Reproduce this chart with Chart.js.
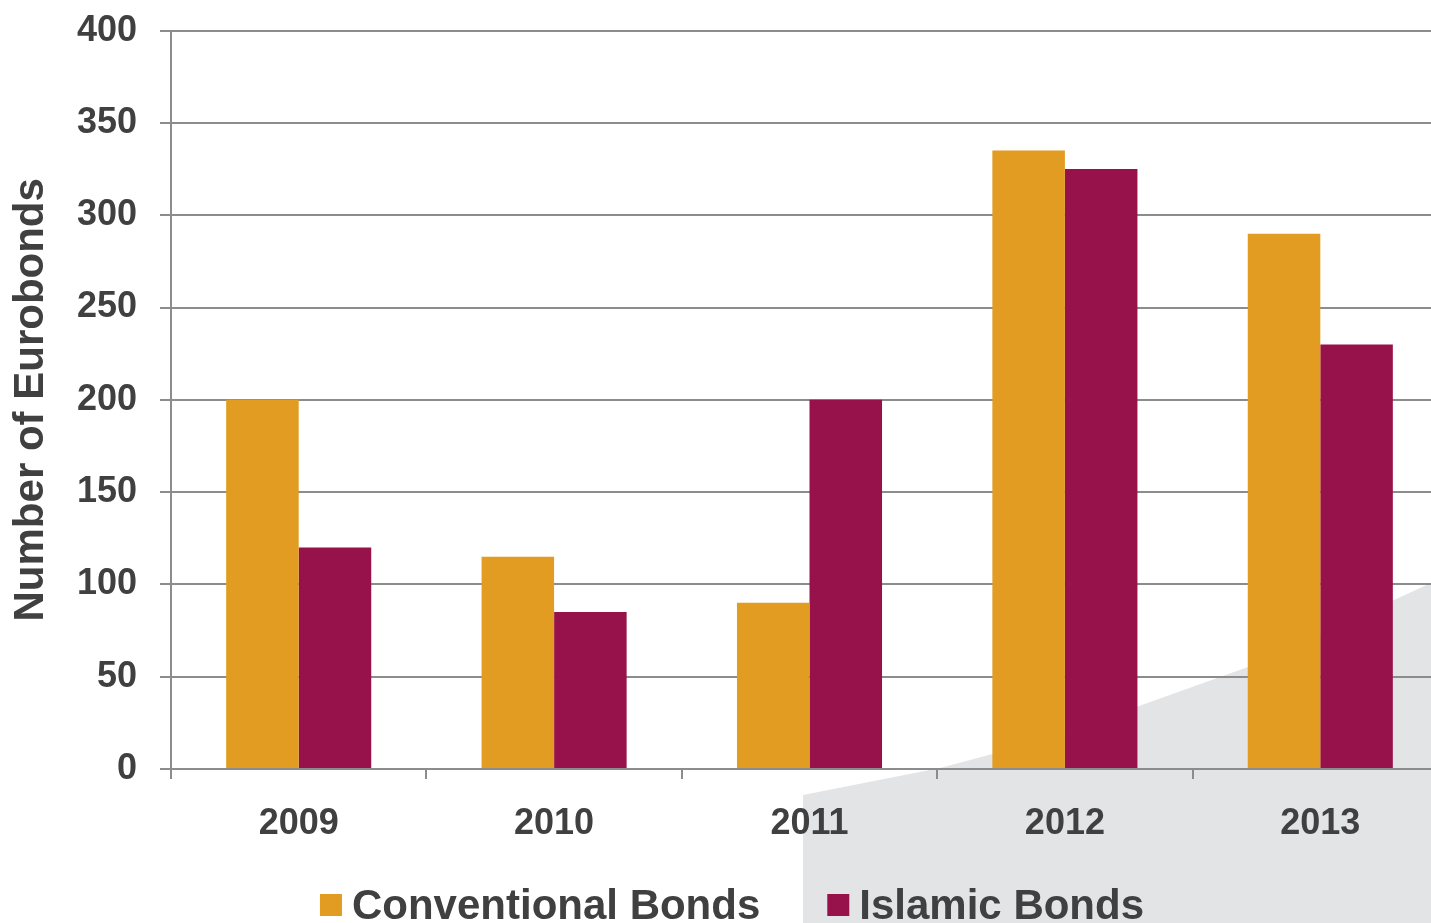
<!DOCTYPE html>
<html>
<head>
<meta charset="utf-8">
<script src="https://cdn.jsdelivr.net/npm/chart.js@4.4.1/dist/chart.umd.min.js"></script>
<style>
html,body{margin:0;padding:0;background:#fff;overflow:hidden;width:1431px;height:923px;}
#wrap{position:relative;width:1431px;height:923px;overflow:hidden;}
#bg{position:absolute;left:0;top:0;width:1431px;height:923px;background:#e3e4e6;
  clip-path:polygon(803px 923px,803px 795px,940px 768px,1000px 752px,1139px 706px,1248px 667px,1431px 583px,1431px 923px);}
canvas{position:absolute;left:0;top:-14px;}
</style>
</head>
<body>
<div id="wrap"><div id="bg"></div><canvas id="c" width="1448" height="937" style="width:1448px;height:937px"></canvas></div>
<script>
const categories = ['2009', '2010', '2011', '2012', '2013'];
const conventionalBonds = [200, 115, 90, 335, 290];
const islamicBonds = [120, 85, 200, 325, 230];
const seriesNames = ['Conventional Bonds', 'Islamic Bonds'];
const yTickValues = [0, 50, 100, 150, 200, 250, 300, 350, 400];
const yTitle = 'Number of Eurobonds';

const FONT = '"Liberation Sans", Arial, Helvetica, sans-serif';
const TEXT = '#404040';
const GRID = '#8c8c8c';

const legendPlugin = {
  id: 'customLegend',
  afterDraw(chart) {
    const ctx = chart.ctx;
    ctx.save();
    ctx.font = 'bold 42px ' + FONT;
    ctx.textBaseline = 'middle';
    const items = chart.data.datasets.map(d => ({text: d.label, color: d.backgroundColor, w: ctx.measureText(d.label).width}));
    const box = 22, gap = 10, itemGap = 67;
    const total = items.reduce((s, it) => s + box + gap + it.w, 0) + itemGap * (items.length - 1);
    let x = 732 - total / 2;
    const yMid = chart.chartArea.bottom + 136;
    items.forEach(it => {
      ctx.fillStyle = it.color;
      ctx.fillRect(x, yMid - 11, box, box);
      ctx.fillStyle = TEXT;
      ctx.fillText(it.text, x + box + gap, yMid + 2);
      x += box + gap + it.w + itemGap;
    });
    ctx.restore();
  }
};

new Chart(document.getElementById('c'), {
  type: 'bar',
  data: {
    labels: categories,
    datasets: [
      {label: seriesNames[0], data: conventionalBonds, backgroundColor: '#e29c21', borderWidth: 0},
      {label: seriesNames[1], data: islamicBonds, backgroundColor: '#97124a', borderWidth: 0}
    ]
  },
  options: {
    responsive: false,
    animation: false,
    devicePixelRatio: 1,
    layout: {padding: {top: 16, left: 0, right: 0, bottom: 0}},
    plugins: {legend: {display: false}, tooltip: {enabled: false}},
    datasets: {bar: {barPercentage: 1, categoryPercentage: 0.568}},
    scales: {
      x: {
        offset: true,
        grid: {display: true, drawOnChartArea: false, drawTicks: true, tickLength: 10, color: GRID, lineWidth: 2, offset: true},
        border: {display: true, color: GRID, width: 2},
        ticks: {color: TEXT, padding: 23, font: {family: FONT, size: 36, weight: 'bold'}, maxRotation: 0},
        afterFit(scale) { scale.height = 154; }
      },
      y: {
        min: 0, max: 400,
        afterBuildTicks(scale) { scale.ticks = yTickValues.map(v => ({value: v})); },
        grid: {color: GRID, lineWidth: 2, tickLength: 11, drawTicks: true},
        border: {display: true, color: GRID, width: 2},
        ticks: {color: TEXT, padding: 23, font: {family: FONT, size: 36, weight: 'bold'}},
        title: {display: true, text: yTitle, color: TEXT, padding: {top: 6, bottom: 0}, font: {family: FONT, size: 42, weight: 'bold'}},
        afterFit(scale) { scale.width = 171; }
      }
    }
  },
  plugins: [legendPlugin]
});
</script>
</body>
</html>
